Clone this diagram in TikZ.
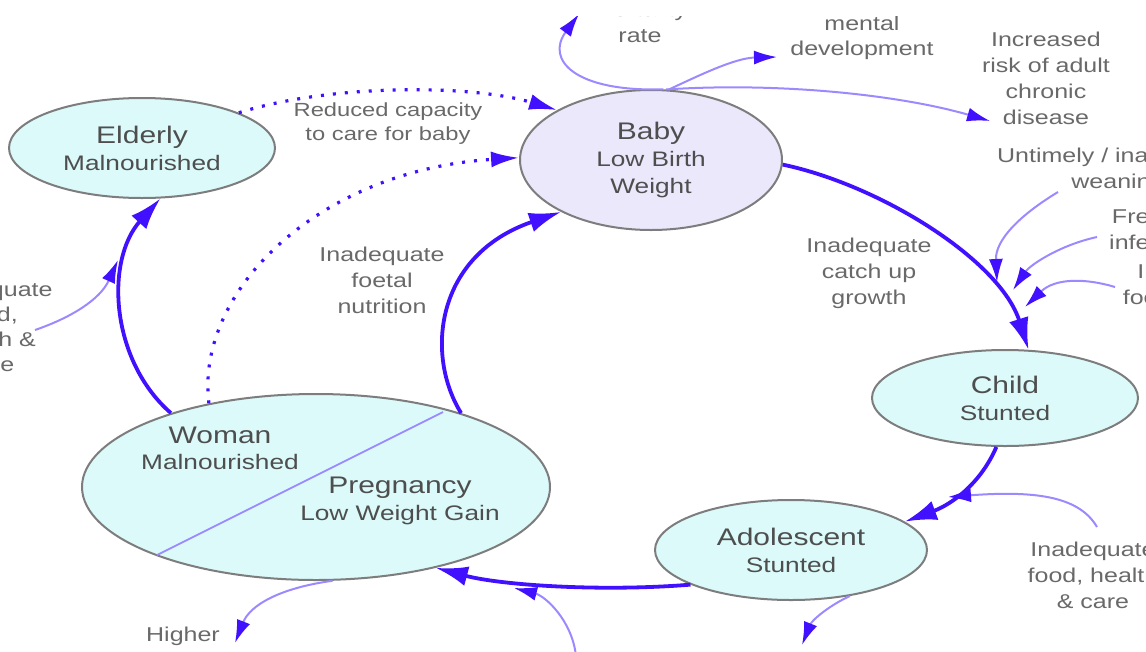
\documentclass[tikz,border=0pt]{standalone}
\usepackage{fontspec}
\setmainfont{Liberation Sans}[FakeStretch=1.25]
\usetikzlibrary{arrows.meta,shapes.geometric}
\definecolor{thickc}{RGB}{64,16,255}
\definecolor{thinc}{RGB}{155,138,255}
\definecolor{cyanfill}{RGB}{220,250,250}
\definecolor{lavfill}{RGB}{236,232,252}
\definecolor{bord}{RGB}{125,125,125}
\definecolor{txtmain}{RGB}{78,78,78}
\definecolor{txtlbl}{RGB}{105,105,105}
\begin{document}
\begin{tikzpicture}[x=1pt,y=-1pt,
  ell/.style={ellipse, draw=bord, line width=2pt, inner sep=0pt, text=txtmain, align=center, font=\fontsize{21}{27}\selectfont},
  wtxt/.style={text=txtmain, align=center, inner sep=0pt},
  lbl/.style={text=txtlbl, align=center, inner sep=0pt, font=\fontsize{20}{26}\selectfont},
  mainarrow/.style={draw=thickc, line width=3.8pt, -{Latex[length=32pt,width=20pt]}},
  feed/.style={draw=thinc, line width=2pt, -{Latex[length=23pt,width=14pt,color=thickc]}},
  dotarrow/.style={draw=thickc, line width=3.2pt, dash pattern=on 3pt off 9pt, -{Latex[length=28pt,width=16pt]}},
]
\useasboundingbox (0,0) rectangle (1146,651);
\clip (0,16) rectangle (1146,651);

% ellipses
\node[ell, fill=cyanfill, minimum width=266pt, minimum height=100pt] (elderly) at (142,148)
  {{\fontsize{24}{27}\selectfont Elderly}\\Malnourished};
\node[ell, fill=lavfill, minimum width=262pt, minimum height=140pt] (baby) at (651,160)
  {{\fontsize{24}{27}\selectfont Baby}\\Low Birth\\Weight};
\node[ell, fill=cyanfill, minimum width=266pt, minimum height=96pt] (child) at (1005,398)
  {{\fontsize{24}{27}\selectfont Child}\\Stunted};
\node[ell, fill=cyanfill, minimum width=272pt, minimum height=100pt] (adol) at (791,550)
  {{\fontsize{24}{27}\selectfont Adolescent}\\Stunted};
\node[ell, fill=cyanfill, minimum width=468pt, minimum height=186pt] (woman) at (316,487) {};
\coordinate (wd1) at (157,555);
\coordinate (wd2) at (443,412);
\draw[thinc, line width=1.8pt] (wd1) -- (wd2);
\node[wtxt, font=\fontsize{24}{27}\selectfont] (wt1) at (220,435) {Woman};
\node[wtxt, font=\fontsize{21}{27}\selectfont] (wt2) at (220,462) {Malnourished};
\node[wtxt, font=\fontsize{24}{27}\selectfont] (wt3) at (400,488) {Pregnancy};
\node[wtxt, font=\fontsize{21}{27}\selectfont] (wt4) at (400,515) {Low Weight Gain};

% main cycle
\draw[mainarrow] (baby.-2) .. controls (880,185) and (1000,260) .. (child.64);
\draw[mainarrow] (child.-100) .. controls (980,485) and (950,505) .. (adol.14);
\draw[mainarrow] (adol.199) .. controls (600,592) and (500,585) .. (woman.-34);
\draw[mainarrow] (woman.27) .. controls (425,355) and (435,255) .. (baby.210);
\draw[mainarrow] (woman.153) .. controls (110,360) and (105,260) .. (elderly.-70);

% dotted
\draw[dotarrow] (woman.142.4) .. controls (195,290) and (320,170) .. (baby.179);
\draw[dotarrow] (elderly.20) .. controls (330,84) and (470,84) .. (baby.152);

% labels
\node[lbl, font=\fontsize{19}{24}\selectfont] (lred) at (388,124) {Reduced capacity\\to care for baby};
\node[lbl] (lfoe) at (382,280) {Inadequate\\foetal\\nutrition};
\node[lbl] (lcat) at (869,273) {Inadequate\\catch up\\growth};
\node[lbl] (lmor) at (640,22) {mortality\\rate};
\node[lbl, font=\fontsize{20}{25}\selectfont] (lmen) at (862,38) {mental\\development};
\node[lbl] (ldis) at (1046,78) {Increased\\risk of adult\\chronic\\disease};
\node[lbl] (lwea) at (1118,170) {Untimely / inadequate\\weaning};
\node[lbl] (linf) at (1162,230) {Frequent\\infections};
\node[lbl] (lfc) at (1200,297) {Inadequate\\food, health \&\\care};
\node[lbl] (lfa) at (1093,575) {Inadequate\\food, health\\\& care};
\node[lbl, font=\fontsize{20}{25}\selectfont] (lfe) at (-10,327) {Inadequate\\food,\\health \&\\care};
\node[lbl] (lhm) at (183,662) {Higher\\maternal\\mortality};

% feed arrows
\coordinate (mT) at (579,14);
\coordinate (dT) at (777,57);
\coordinate (rT) at (990,121);
\draw[feed] (baby.80) .. controls (575,92) and (545,60) .. (mT);
\draw[feed] (baby.76) .. controls (700,75) and (735,58) .. (dT);
\draw[feed] (baby.78) .. controls (780,82) and (900,95) .. (rT);

\coordinate (c1S) at (1058,192); \coordinate (c1T) at (997,282);
\coordinate (c2S) at (1097,237); \coordinate (c2T) at (1013,290);
\coordinate (c3S) at (1115,287); \coordinate (c3T) at (1025,307);
\draw[feed] (c1S) .. controls (1020,215) and (995,240) .. (c1T);
\draw[feed] (c2S) .. controls (1060,245) and (1030,265) .. (c2T);
\draw[feed] (c3S) .. controls (1085,278) and (1055,278) .. (c3T);

\coordinate (aS) at (1097,527); \coordinate (aT) at (948,497);
\draw[feed] (aS) .. controls (1080,498) and (1040,490) .. (aT);

\coordinate (bT) at (802,645);
\draw[feed] (adol.-38) .. controls (830,605) and (812,620) .. (bT);

\coordinate (pS) at (576,656); \coordinate (pT) at (514,588);
\draw[feed] (pS) .. controls (572,620) and (545,596) .. (pT);

\coordinate (hT) at (235,643);
\draw[feed] (woman.-80) .. controls (280,588) and (250,605) .. (hT);

\coordinate (eS) at (35,330); \coordinate (eT) at (118,260);
\draw[feed] (eS) .. controls (70,318) and (100,300) .. (eT);
\end{tikzpicture}
\end{document}
